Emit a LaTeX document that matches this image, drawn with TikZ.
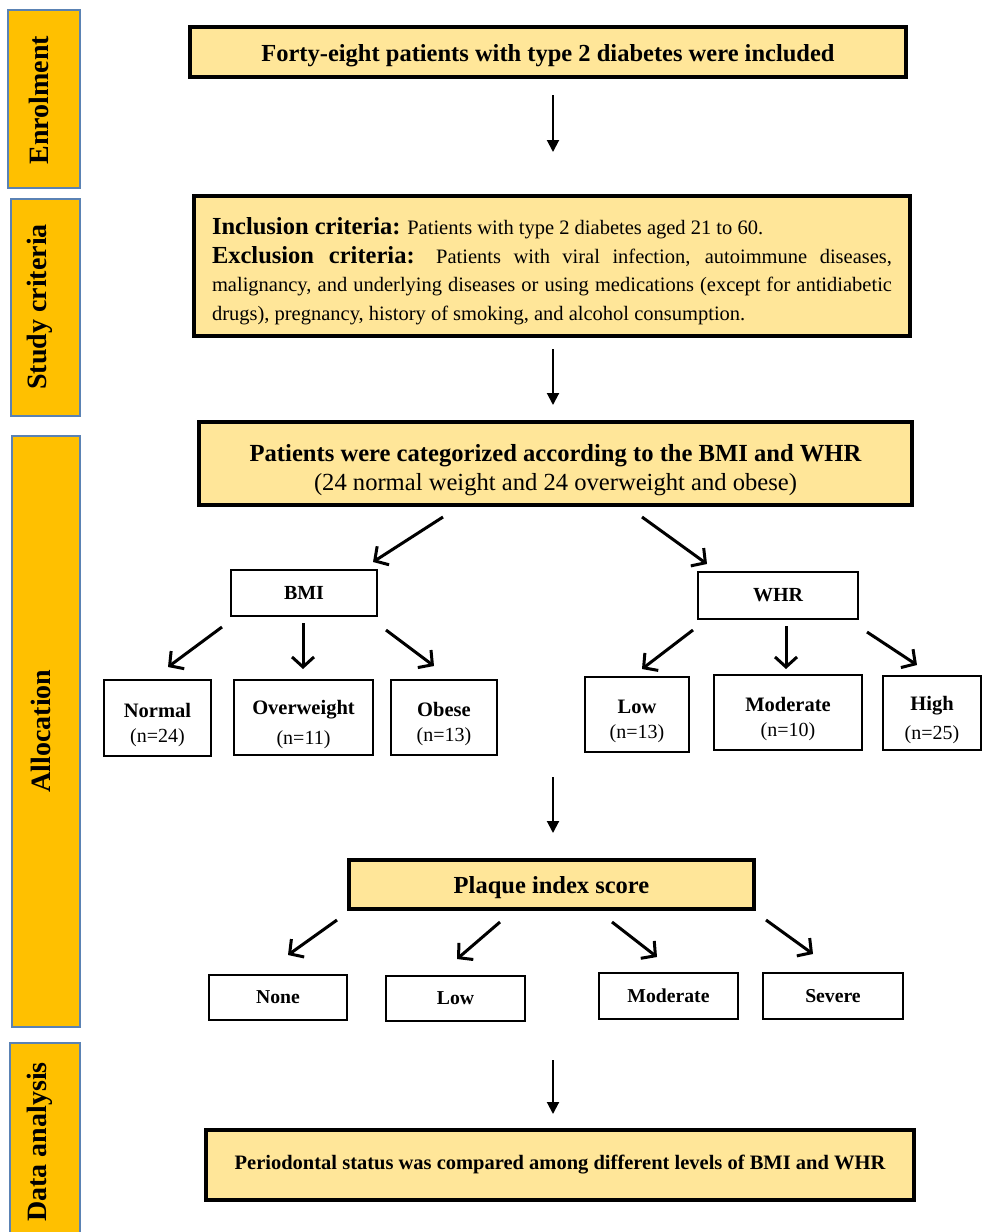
\documentclass[tikz,border=0pt]{standalone}
\usepackage{fontspec}
\setmainfont{Liberation Serif}
\usetikzlibrary{arrows.meta}
\definecolor{sidefill}{HTML}{FFC000}
\definecolor{sideline}{HTML}{5A82B4}
\definecolor{boxfill}{HTML}{FFE699}
\newcommand{\fs}[1]{\fontsize{#1}{#1}\selectfont}
\newcommand{\upstrut}[1]{\rule{0pt}{#1}}
\begin{document}
\begin{tikzpicture}[x=1pt,y=-1pt,
  sidebar/.style={draw=sideline,line width=1.6pt,fill=sidefill,inner sep=0pt},
  sidelabel/.style={rotate=90,font=\bfseries\fs{28}},
  ybox/.style={draw=black,line width=3.2pt,fill=boxfill,inner sep=0pt,align=center},
  wbox/.style={draw=black,line width=2.8pt,fill=white,inner sep=0pt,align=center},
  varrow/.style={line width=2pt,-{Triangle[length=12pt,width=12pt]}},
  darrow/.style={line width=3pt,line join=miter,-{Straight Barb[length=10pt,width=22pt]}}
]
\clip (0,0) rectangle (982,1232);
\fill[white] (0,0) rectangle (982,1232);

% sidebars
\node[sidebar,minimum width=72,minimum height=178] (sb1) at (44,99) {};
\node[sidelabel] (sl1) at (39,100) {Enrolment};
\node[sidebar,minimum width=69,minimum height=217] (sb2) at (45.5,307.5) {};
\node[sidelabel] (sl2) at (40,307) {Study criteria};
\node[sidebar,minimum width=68,minimum height=591] (sb3) at (46,731.5) {};
\node[sidelabel] (sl3) at (41,731) {Allocation};
\node[sidebar,minimum width=70,minimum height=220] (sb4) at (45,1153) {};
\node[sidelabel] (sl4) at (40,1142) {Data analysis};

% main boxes
\node[ybox,minimum width=716,minimum height=50,font=\bfseries\fs{24.5}] (top) at (548,52) {\upstrut{24pt}Forty-eight patients with type 2 diabetes were included};

\node[ybox,minimum width=716,minimum height=140,text width=680,inner xsep=18pt,align=justify] (crit) at (552,266)
{\fontsize{20.5}{28.5}\selectfont\upstrut{27pt}{\bfseries\fs{24.5}Inclusion criteria:} Patients with type 2 diabetes aged 21 to 60.\par
{\bfseries\fs{24.5}Exclusion criteria:} Patients with viral infection, autoimmune diseases,\linebreak
malignancy, and underlying diseases or using medications (except for antidiabetic\linebreak
drugs), pregnancy, history of smoking, and alcohol consumption.\par};

\node[ybox,minimum width=713,minimum height=83] (cat) at (555.5,463.5)
{\upstrut{30pt}{\bfseries\fs{24.6}Patients were categorized according to the BMI and WHR}\\[6pt]{\fs{24.6}(24 normal weight and 24 overweight and obese)}};

\node[wbox,minimum width=146,minimum height=46,font=\bfseries\fs{20}] (bmi) at (304,593) {BMI};
\node[wbox,minimum width=160,minimum height=47,font=\bfseries\fs{20}] (whr) at (778,595.5) {WHR};

\node[wbox,minimum width=107,minimum height=76] (normal) at (157.5,718) {\upstrut{28pt}{\bfseries\fs{20.5}Normal}\\[10pt]{\fs{20}(n=24)}};
\node[wbox,minimum width=139,minimum height=75] (over) at (303.5,717.5) {\upstrut{28pt}{\bfseries\fs{20.5}Overweight}\\[10pt]{\fs{20}(n=11)}};
\node[wbox,minimum width=106,minimum height=75] (obese) at (444,717.5) {\upstrut{28pt}{\bfseries\fs{20.5}Obese}\\[10pt]{\fs{20}(n=13)}};

\node[wbox,minimum width=104,minimum height=75] (wlow) at (637,714.5) {\upstrut{28pt}{\bfseries\fs{20.5}Low}\\[10pt]{\fs{20}(n=13)}};
\node[wbox,minimum width=148,minimum height=75] (wmod) at (788,712.5) {\upstrut{28pt}{\bfseries\fs{20.5}Moderate}\\[10pt]{\fs{20}(n=10)}};
\node[wbox,minimum width=98,minimum height=74] (whigh) at (932,713) {\upstrut{28pt}{\bfseries\fs{20.5}High}\\[10pt]{\fs{20}(n=25)}};

\node[ybox,minimum width=405,minimum height=49,font=\bfseries\fs{24.5}] (plaque) at (551.5,884.5) {\upstrut{24pt}Plaque index score};

\node[wbox,minimum width=138,minimum height=45,font=\bfseries\fs{19.7}] (pnone) at (278,997.5) {None};
\node[wbox,minimum width=139,minimum height=45,font=\bfseries\fs{19.7}] (plow) at (455.5,998.5) {Low};
\node[wbox,minimum width=139,minimum height=46,font=\bfseries\fs{19.7}] (pmod) at (668.5,996) {Moderate};
\node[wbox,minimum width=140,minimum height=46,font=\bfseries\fs{19.7}] (psev) at (833,996) {Severe};

\node[ybox,minimum width=708,minimum height=70,font=\bfseries\fs{20.5}] (final) at (560,1165) {Periodontal status was compared among different levels of BMI and WHR};

% arrow end points
\coordinate (v1a) at (553,95);   \coordinate (v1b) at (553,152);
\coordinate (v2a) at (553,349);  \coordinate (v2b) at (553,405);
\coordinate (v3a) at (553,777);  \coordinate (v3b) at (553,833);
\coordinate (v4a) at (553,1060); \coordinate (v4b) at (553,1114);

\coordinate (c1a) at (443,517); \coordinate (c1b) at (373,562);
\coordinate (c2a) at (642,517); \coordinate (c2b) at (707,564);

\coordinate (b1a) at (222,627); \coordinate (b1b) at (168,667);
\coordinate (b2a) at (303,623); \coordinate (b2b) at (303,669);
\coordinate (b3a) at (386,630); \coordinate (b3b) at (434,666);

\coordinate (w1a) at (693,630); \coordinate (w1b) at (642,669);
\coordinate (w2a) at (786,626); \coordinate (w2b) at (786,669);
\coordinate (w3a) at (867,632); \coordinate (w3b) at (917,665);

\coordinate (p1a) at (337,920); \coordinate (p1b) at (288,955);
\coordinate (p2a) at (500,922); \coordinate (p2b) at (457,959);
\coordinate (p3a) at (612,922); \coordinate (p3b) at (657,957);
\coordinate (p4a) at (766,920); \coordinate (p4b) at (813,954);

\draw[varrow] (v1a) -- (v1b);
\draw[varrow] (v2a) -- (v2b);
\draw[varrow] (v3a) -- (v3b);
\draw[varrow] (v4a) -- (v4b);

\draw[darrow] (c1a) -- (c1b);
\draw[darrow] (c2a) -- (c2b);
\draw[darrow] (b1a) -- (b1b);
\draw[darrow] (b2a) -- (b2b);
\draw[darrow] (b3a) -- (b3b);
\draw[darrow] (w1a) -- (w1b);
\draw[darrow] (w2a) -- (w2b);
\draw[darrow] (w3a) -- (w3b);
\draw[darrow] (p1a) -- (p1b);
\draw[darrow] (p2a) -- (p2b);
\draw[darrow] (p3a) -- (p3b);
\draw[darrow] (p4a) -- (p4b);
\end{tikzpicture}
\end{document}
